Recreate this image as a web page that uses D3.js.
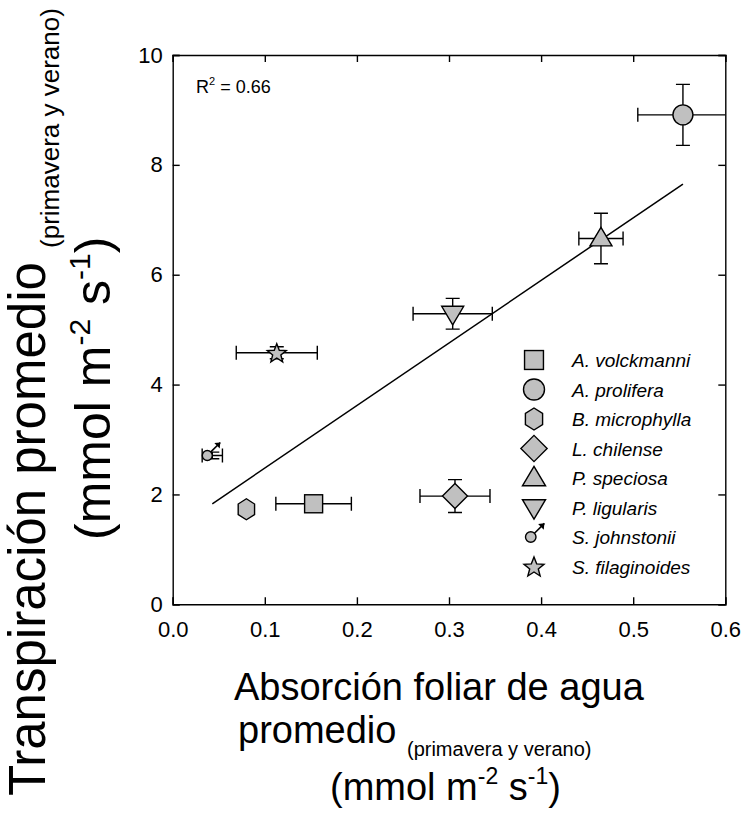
<!DOCTYPE html>
<html>
<head>
<meta charset="utf-8">
<script src="https://cdn.jsdelivr.net/npm/d3@7"></script>
<style>
  html, body { margin: 0; padding: 0; background: #fff; }
  svg { display: block; font-family: "Liberation Sans", Arial, sans-serif; }
</style>
</head>
<body>
<svg id="chart" width="746" height="813"></svg>
<script>
// Species (legend order) and their marker shapes
const species = ["A. volckmanni", "A. prolifera", "B. microphylla", "L. chilense",
                 "P. speciosa", "P. ligularis", "S. johnstonii", "S. filaginoides"];
const shapes  = ["square", "circle", "hexagon", "diamond", "triUp", "triDown", "male", "star"];

// Mean foliar water uptake (x) and mean transpiration (y), with standard errors
const absorcion    = [0.153, 0.554, 0.080, 0.3065, 0.465, 0.304, 0.043, 0.113];
const absorcionErr = [0.041, 0.049, 0.004, 0.038, 0.024, 0.043, 0.011, 0.044];
const transp       = [1.83, 8.91, 1.73, 1.97, 6.66, 5.29, 2.71, 4.58];
const transpErr    = [0.05, 0.555, 0.05, 0.30, 0.46, 0.28, 0.06, 0.11];

// Axis ticks
const xTicks = [0.0, 0.1, 0.2, 0.3, 0.4, 0.5, 0.6];
const yTicks = [0, 2, 4, 6, 8, 10];

// Linear fit
const r2 = 0.66;
const fitSlope = 11.39, fitIntercept = 1.34;

const svg = d3.select("#chart");
const W = 746, H = 813;
const margin = { left: 172.7, right: W - 725.3, top: 55, bottom: H - 604.3 };
const x = d3.scaleLinear().domain([0, 0.6]).range([margin.left, W - margin.right]);
const y = d3.scaleLinear().domain([0, 10]).range([H - margin.bottom, margin.top]);

const FILL = "#c0c0c0";
const SW = 1.4;

// clip region for plot contents
svg.append("defs").append("clipPath").attr("id", "plotClip")
  .append("rect").attr("x", x(0)).attr("y", y(10))
  .attr("width", x(0.6) - x(0)).attr("height", y(0) - y(10));

// Axes: ticks pointing inward on all four sides
const tickLen = 7;
const axisBottom = d3.axisBottom(x).tickValues(xTicks).tickSize(-tickLen).tickPadding(17)
  .tickFormat(d3.format(".1f"));
const axisTop = d3.axisTop(x).tickValues(xTicks).tickSize(-tickLen).tickFormat("");
const axisLeft = d3.axisLeft(y).tickValues(yTicks).tickSize(-tickLen).tickPadding(10)
  .tickFormat(d3.format("d"));
const axisRight = d3.axisRight(y).tickValues(yTicks).tickSize(-tickLen).tickFormat("");

function styleAxis(g) {
  g.selectAll(".domain").attr("stroke", "#000").attr("stroke-width", SW);
  g.selectAll(".tick line").attr("stroke", "#000").attr("stroke-width", SW);
  g.selectAll(".tick text").attr("fill", "#000").style("font-size", "22px")
    .style("font-family", "Liberation Sans, Arial, sans-serif");
}
svg.append("g").attr("transform", `translate(0,${y(0)})`).call(axisBottom).call(styleAxis);
svg.append("g").attr("transform", `translate(0,${y(10)})`).call(axisTop).call(styleAxis);
svg.append("g").attr("transform", `translate(${x(0)},0)`).call(axisLeft).call(styleAxis);
svg.append("g").attr("transform", `translate(${x(0.6)},0)`).call(axisRight).call(styleAxis);

// Regression line across the data range
const xMin = d3.min(absorcion), xMax = d3.max(absorcion);
const plot = svg.append("g").attr("clip-path", "url(#plotClip)");
plot.append("line")
  .attr("x1", x(xMin)).attr("y1", y(fitIntercept + fitSlope * xMin))
  .attr("x2", x(xMax)).attr("y2", y(fitIntercept + fitSlope * xMax))
  .attr("stroke", "#000").attr("stroke-width", 1.5);

// Error bars (drawn beneath the markers)
const capW = 7;
const pts = species.map((s, i) => ({
  name: s, shape: shapes[i], x: absorcion[i], xe: absorcionErr[i], y: transp[i], ye: transpErr[i]
}));
const eb = plot.append("g").attr("stroke", "#000").attr("stroke-width", SW).attr("fill", "none");
pts.forEach(p => {
  const px = x(p.x), py = y(p.y);
  const xl = x(p.x - p.xe), xr = x(p.x + p.xe);
  const yt = y(p.y + p.ye), yb = y(p.y - p.ye);
  eb.append("path").attr("d",
    `M${xl},${py}H${xr}M${xl},${py - capW}V${py + capW}M${xr},${py - capW}V${py + capW}` +
    `M${px},${yt}V${yb}M${px - capW},${yt}H${px + capW}M${px - capW},${yb}H${px + capW}`);
});

// Marker drawing
function drawMarker(g, shape, cx, cy, scale) {
  const s = scale || 1;
  const st = (sel) => sel.attr("fill", FILL).attr("stroke", "#000").attr("stroke-width", SW);
  if (shape === "square") {
    const a = 18 * s;
    st(g.append("rect").attr("x", cx - a / 2).attr("y", cy - a / 2).attr("width", a).attr("height", a));
  } else if (shape === "circle") {
    st(g.append("circle").attr("cx", cx).attr("cy", cy).attr("r", 10 * s));
  } else if (shape === "hexagon") {
    const r = 10.5 * s;
    const ptsH = d3.range(6).map(k => {
      const a = Math.PI / 2 + k * Math.PI / 3;
      return [cx + r * 0.9 * Math.cos(a), cy - r * Math.sin(a)];
    });
    st(g.append("path").attr("d", d3.line()(ptsH) + "Z"));
  } else if (shape === "diamond") {
    const r = 12.5 * s;
    st(g.append("path").attr("d", `M${cx},${cy - r}L${cx + r},${cy}L${cx},${cy + r}L${cx - r},${cy}Z`));
  } else if (shape === "triUp") {
    const w = 11 * s, h = 18.5 * s;
    st(g.append("path").attr("d", `M${cx},${cy - h * 0.6}L${cx + w},${cy + h * 0.4}L${cx - w},${cy + h * 0.4}Z`));
  } else if (shape === "triDown") {
    const w = 11 * s, h = 18.5 * s;
    st(g.append("path").attr("d", `M${cx},${cy + h * 0.6}L${cx + w},${cy - h * 0.4}L${cx - w},${cy - h * 0.4}Z`));
  } else if (shape === "star") {
    const ro = 10 * s, ri = 4.3 * s;
    const ptsS = d3.range(10).map(k => {
      const a = -Math.PI / 2 + k * Math.PI / 5;
      const r = k % 2 ? ri : ro;
      return [cx + r * Math.cos(a), cy + 1 + r * Math.sin(a)];
    });
    st(g.append("path").attr("d", d3.line()(ptsS) + "Z"));
  } else if (shape === "male") {
    const r = 5 * s;
    const ccx = cx - 5 * s, ccy = cy;
    const d = r / Math.SQRT2;
    const ex = ccx + 13 * s, ey = ccy - 13 * s;
    g.append("line").attr("x1", ccx + d).attr("y1", ccy - d).attr("x2", ex).attr("y2", ey)
      .attr("stroke", "#000").attr("stroke-width", SW * 1.1);
    g.append("path").attr("d", `M${ex},${ey}l${-6 * s},${0.6 * s}l${5.4 * s},${5.4 * s}Z`).attr("fill", "#000");
    st(g.append("circle").attr("cx", ccx).attr("cy", ccy).attr("r", r));
  }
}

const mk = plot.append("g");
pts.forEach(p => drawMarker(mk.append("g"), p.shape, x(p.x), y(p.y), 1));

// R² annotation
const r2t = svg.append("text").attr("x", 196).attr("y", 93).style("font-size", "18px").attr("fill", "#000");
r2t.append("tspan").text("R");
r2t.append("tspan").attr("dy", -8).style("font-size", "11px").text("2");
r2t.append("tspan").attr("dy", 8).text(" = " + r2.toFixed(2));

// Legend
const legX = 534, legText = 572, legY0 = 360, legDY = 29.5;
const leg = svg.append("g");
species.forEach((s, i) => {
  const cy = legY0 + i * legDY;
  drawMarker(leg.append("g"), shapes[i], legX + (shapes[i] === "male" ? 2 : 0), cy, 1.05);
  leg.append("text").attr("x", legText).attr("y", cy + 7)
    .style("font-size", "19px").style("font-style", "italic").attr("fill", "#000").text(s);
});

// X axis title (three lines)
const xt = svg.append("g").attr("fill", "#000");
xt.append("text").attr("x", 234).attr("y", 700)
  .style("font-size", "38px").text("Absorción foliar de agua");
const xt2 = xt.append("text").attr("x", 238).attr("y", 743).style("font-size", "38px");
xt2.append("tspan").text("promedio ");
xt2.append("tspan").attr("dy", 13).style("font-size", "20px").text("(primavera y verano)");
const xt3 = xt.append("text").attr("x", 330).attr("y", 800).style("font-size", "38px");
xt3.append("tspan").text("(mmol m");
xt3.append("tspan").attr("dy", -16).style("font-size", "23px").text("-2");
xt3.append("tspan").attr("dy", 16).text(" s");
xt3.append("tspan").attr("dy", -16).style("font-size", "23px").text("-1");
xt3.append("tspan").attr("dy", 16).text(")");

// Y axis title (rotated)
const yt = svg.append("g").attr("fill", "#000").attr("transform", "rotate(-90)");
const yt1 = yt.append("text").attr("x", -796).attr("y", 45).style("font-size", "51px");
yt1.append("tspan").text("Transpiración promedio ");
yt1.append("tspan").attr("dy", 14).style("font-size", "26px").text("(primavera y verano)");
const yt2 = yt.append("text").attr("x", -540).attr("y", 110).style("font-size", "50px");
yt2.append("tspan").text("(mmol m");
yt2.append("tspan").attr("dy", -20).style("font-size", "30px").text("-2");
yt2.append("tspan").attr("dy", 20).text(" s");
yt2.append("tspan").attr("dy", -20).style("font-size", "30px").text("-1");
yt2.append("tspan").attr("dy", 20).text(")");
</script>
</body>
</html>
